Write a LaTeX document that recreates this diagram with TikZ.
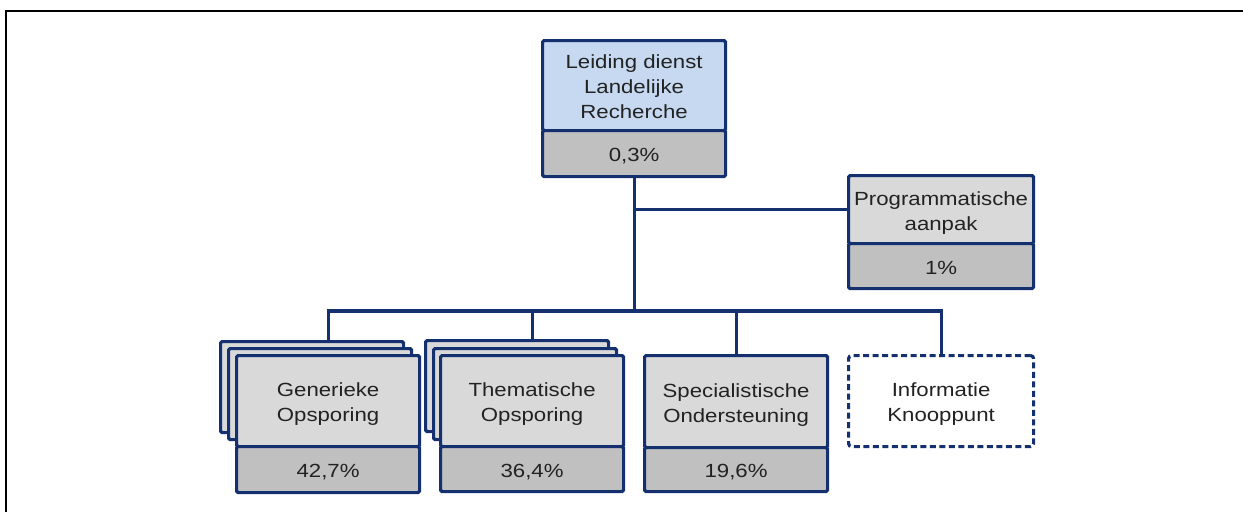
\documentclass[tikz,border=0pt]{standalone}
\usepackage{fontspec}
\setmainfont{Liberation Sans}
\usepackage{graphicx}
\definecolor{navy}{HTML}{15306F}
\definecolor{lblue}{HTML}{C6D9F1}
\definecolor{lgrey}{HTML}{D9D9D9}
\definecolor{mgrey}{HTML}{C0C0C0}
\definecolor{txt}{HTML}{222222}
\newcommand{\lbl}[1]{\raisebox{-3pt}[\height][\depth]{\scalebox{1.2}[1.03]{\fontsize{18.5}{24.5}\selectfont\begin{tabular}{@{}c@{}}#1\end{tabular}}}}
\tikzset{
  cell/.style={draw=navy, line width=3.2pt, rounded corners=1.5pt, anchor=north west,
    inner sep=0pt, text=txt, align=center},
  upcell/.style={cell, fill=lgrey, minimum width=183pt},
  topcell/.style={cell, fill=lblue, minimum width=183pt},
  pctcell/.style={cell, fill=mgrey, minimum width=183pt, minimum height=45pt},
  backcell/.style={cell, fill=lgrey, minimum width=183pt, minimum height=91pt},
  dashcell/.style={cell, fill=white, dash pattern=on 6pt off 3.5pt, rounded corners=3pt,
    minimum width=185pt, minimum height=91pt},
  conn/.style={draw=navy, line width=3.2pt},
  frame/.style={draw=black, line width=2.4pt}
}
\begin{document}
\begin{tikzpicture}[x=1pt,y=-1pt]
\useasboundingbox (0,0) rectangle (1243,512);
\draw[frame] (6,512) -- (6,11) -- (1243,11);

% top
\node[topcell, minimum height=90pt] (lead) at (541,39) {\lbl{Leiding dienst\\Landelijke\\Recherche}};
\node[pctcell, minimum height=46pt] (leadp) at (541,129) {\lbl{0,3\%}};

% programmatische aanpak
\node[upcell, minimum width=185pt, minimum height=68pt] (prog) at (847,174) {\lbl{Programmatische\\aanpak}};
\node[pctcell, minimum width=185pt] (progp) at (847,242) {\lbl{1\%}};

% generieke opsporing
\node[backcell] (genB1) at (219,340) {};
\node[backcell] (genB2) at (227,347) {};
\node[upcell, minimum height=91pt] (gen) at (235,354) {\lbl{Generieke\\Opsporing}};
\node[pctcell, minimum height=46pt] (genp) at (235,445) {\lbl{42,7\%}};

% thematische opsporing
\node[backcell] (thB1) at (424,339) {};
\node[backcell] (thB2) at (432,347) {};
\node[upcell, minimum height=91pt] (th) at (439,354) {\lbl{Thematische\\Opsporing}};
\node[pctcell, minimum height=45pt] (thp) at (439,445) {\lbl{36,4\%}};

% specialistische ondersteuning
\node[upcell, minimum height=92pt] (spec) at (643,354) {\lbl{Specialistische\\Ondersteuning}};
\node[pctcell, minimum height=44pt] (specp) at (643,446) {\lbl{19,6\%}};

% informatie knooppunt
\node[dashcell] (info) at (847,354) {\lbl{Informatie\\Knooppunt}};

% connectors
\coordinate (bus) at (633,311);
\draw[conn] (leadp.south) -- (leadp.south |- bus);
\draw[conn] (leadp.south |- prog.west) -- (prog.west);
\draw[conn] (genB1.north -| gen.north) -- (gen.north |- bus) -- (info.north |- bus) -- (info.north);
\draw[conn] (thB1.north -| th.north) -- (th.north |- bus);
\draw[conn] (spec.north) -- (spec.north |- bus);
\end{tikzpicture}
\end{document}
